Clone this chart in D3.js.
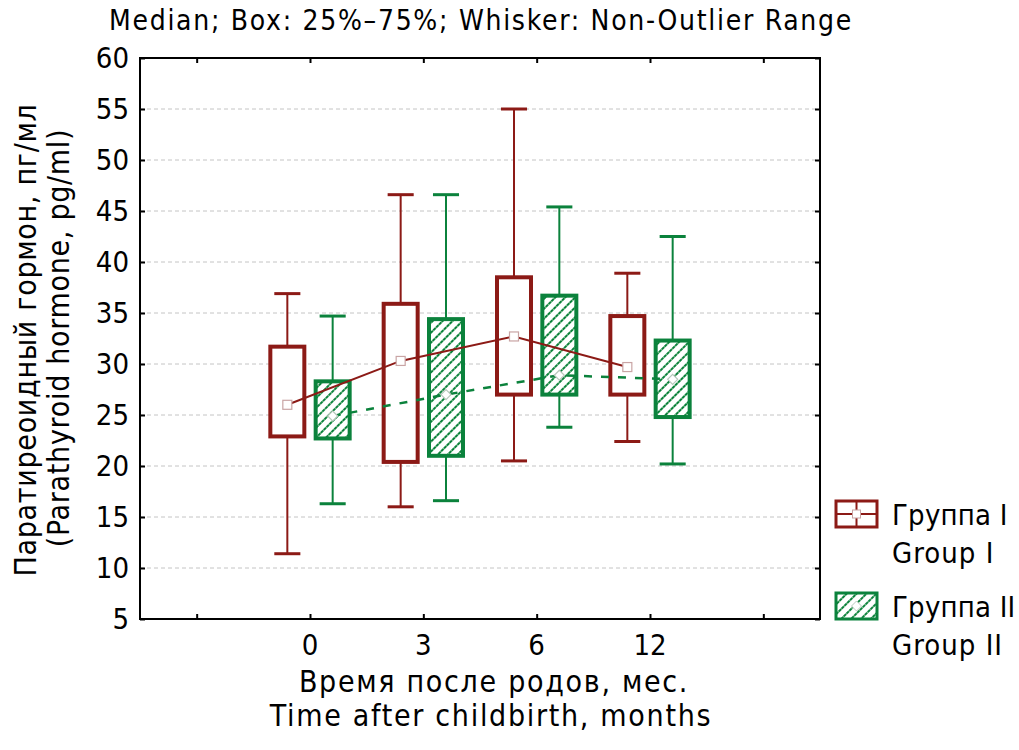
<!DOCTYPE html>
<html>
<head>
<meta charset="utf-8">
<script src="https://cdn.jsdelivr.net/npm/d3@7"></script>
<style>
  body { margin: 0; background: #fff; }
  text { font-family: "DejaVu Sans Condensed", "DejaVu Sans", sans-serif; font-stretch: condensed; fill: #000; }
</style>
</head>
<body>
<div id="chart"></div>
<script>
const categories = ["0", "3", "6", "12"];
const groupNames = [["Группа I", "Group I"], ["Группа II", "Group II"]];

const g1Min = [11.4, 16.0, 20.5, 22.4];
const g1Q1 = [22.9, 20.4, 27.0, 27.0];
const g1Med = [26.0, 30.3, 32.7, 29.7];
const g1Q3 = [31.7, 35.9, 38.5, 34.7];
const g1Max = [36.9, 46.6, 55.0, 38.9];

const g2Min = [16.3, 16.6, 23.8, 20.2];
const g2Q1 = [22.7, 21.0, 27.0, 24.8];
const g2Med = [24.9, 27.0, 28.9, 28.5];
const g2Q3 = [28.3, 34.4, 36.7, 32.3];
const g2Max = [34.7, 46.6, 45.4, 42.5];

const yTicks = [5, 10, 15, 20, 25, 30, 35, 40, 45, 50, 55, 60];

const red = "#8c1a16";
const green = "#0b823c";

const width = 1019, height = 750;
const plot = { left: 140, right: 820, top: 58, bottom: 619 };

const svg = d3.select("#chart").append("svg")
  .attr("width", width)
  .attr("height", height);

const defs = svg.append("defs");
const pat = defs.append("pattern")
  .attr("id", "hatch")
  .attr("patternUnits", "userSpaceOnUse")
  .attr("width", 7)
  .attr("height", 8)
  .attr("patternTransform", "rotate(45)");
pat.append("rect").attr("width", 7).attr("height", 8).attr("fill", "#fff");
pat.append("line")
  .attr("x1", 0).attr("y1", 0).attr("x2", 0).attr("y2", 8)
  .attr("stroke", "#7fbf8e")
  .attr("stroke-width", 4);
pat.append("line")
  .attr("x1", 0).attr("y1", 0).attr("x2", 0).attr("y2", 8)
  .attr("stroke", green)
  .attr("stroke-width", 4)
  .attr("stroke-dasharray", "3,1");

const x = d3.scaleLinear().domain([-1.5, 4.5]).range([plot.left, plot.right]);
const y = d3.scaleLinear().domain([5, 60]).range([plot.bottom, plot.top]);

const off = 0.2, boxW = x(0.15) - x(0), capW = x(0.115) - x(0);

// grid
svg.append("g")
  .selectAll("line")
  .data(yTicks.filter(t => t > 5 && t < 60))
  .join("line")
    .attr("x1", plot.left).attr("x2", plot.right)
    .attr("y1", d => y(d)).attr("y2", d => y(d))
    .attr("stroke", "#c4c4c4")
    .attr("stroke-width", 1)
    .attr("stroke-dasharray", "4,3");

// frame ticks (inward)
const frame = svg.append("g");
frame.append("g")
  .attr("transform", `translate(${plot.left},0)`)
  .call(d3.axisRight(y).tickValues(yTicks).tickSize(5).tickFormat(""))
  .call(g => g.select(".domain").remove());
frame.append("g")
  .attr("transform", `translate(${plot.right},0)`)
  .call(d3.axisLeft(y).tickValues(yTicks).tickSize(5).tickFormat(""))
  .call(g => g.select(".domain").remove());
frame.append("g")
  .attr("transform", `translate(0,${plot.top})`)
  .call(d3.axisBottom(x).tickValues([-1, 0, 1, 2, 3, 4]).tickSize(5).tickFormat(""))
  .call(g => g.select(".domain").remove());
frame.append("g")
  .attr("transform", `translate(0,${plot.bottom})`)
  .call(d3.axisTop(x).tickValues([-1, 0, 1, 2, 3, 4]).tickSize(5).tickFormat(""))
  .call(g => g.select(".domain").remove());
frame.selectAll(".tick line").attr("stroke", "#000").attr("stroke-width", 2);

// y labels
svg.append("g")
  .selectAll("text")
  .data(yTicks)
  .join("text")
    .attr("x", 129)
    .attr("y", d => y(d) + 10)
    .attr("text-anchor", "end")
    .style("font-size", "29px")
    .text(d => d);

// x labels
svg.append("g")
  .selectAll("text")
  .data(categories)
  .join("text")
    .attr("x", (d, i) => x(i))
    .attr("y", 655)
    .attr("text-anchor", "middle")
    .style("font-size", "29px")
    .text(d => d);

const groups = [
  { min: g1Min, q1: g1Q1, med: g1Med, q3: g1Q3, max: g1Max, color: red, dx: -off, fill: "#fff" },
  { min: g2Min, q1: g2Q1, med: g2Med, q3: g2Q3, max: g2Max, color: green, dx: off, fill: "url(#hatch)" }
];

groups.forEach(gr => {
  const g = svg.append("g");
  categories.forEach((c, i) => {
    const cx = x(i + gr.dx);
    g.append("line")
      .attr("x1", cx).attr("x2", cx)
      .attr("y1", y(gr.max[i])).attr("y2", y(gr.min[i]))
      .attr("stroke", gr.color).attr("stroke-width", 2);
    [gr.max[i], gr.min[i]].forEach(v => {
      g.append("line")
        .attr("x1", cx - capW).attr("x2", cx + capW)
        .attr("y1", y(v)).attr("y2", y(v))
        .attr("stroke", gr.color).attr("stroke-width", 3);
    });
    g.append("rect")
      .attr("x", cx - boxW)
      .attr("y", y(gr.q3[i]))
      .attr("width", boxW * 2)
      .attr("height", y(gr.q1[i]) - y(gr.q3[i]))
      .attr("fill", gr.fill)
      .attr("stroke", gr.color)
      .attr("stroke-width", 4);
  });
});

// median lines
const medLine = d3.line().x(d => x(d[0])).y(d => y(d[1]));
svg.append("path")
  .attr("d", medLine(g1Med.map((v, i) => [i - off, v])))
  .attr("fill", "none").attr("stroke", red).attr("stroke-width", 2);
svg.append("path")
  .attr("d", medLine(g2Med.map((v, i) => [i + off, v])))
  .attr("fill", "none").attr("stroke", green).attr("stroke-width", 2.5)
  .attr("stroke-dasharray", "8,9");

// markers
svg.append("g")
  .selectAll("rect")
  .data(g1Med)
  .join("rect")
    .attr("x", (d, i) => x(i - off) - 4.5)
    .attr("y", d => y(d) - 4.5)
    .attr("width", 9).attr("height", 9)
    .attr("fill", "#fff").attr("stroke", "#c9a5a5").attr("stroke-width", 1.2);
svg.append("g")
  .selectAll("path")
  .data(g2Med)
  .join("path")
    .attr("transform", (d, i) => `translate(${x(i + off)},${y(d)})`)
    .attr("d", "M0,-5L5,0L0,5L-5,0Z")
    .attr("fill", "#fff").attr("stroke", "#b9c9bd").attr("stroke-width", 1.2);

// frame border
svg.append("rect")
  .attr("x", plot.left).attr("y", plot.top)
  .attr("width", plot.right - plot.left).attr("height", plot.bottom - plot.top)
  .attr("fill", "none").attr("stroke", "#000").attr("stroke-width", 2);

// titles
svg.append("text")
  .attr("x", 481).attr("y", 30)
  .attr("text-anchor", "middle")
  .style("font-size", "28px")
  .style("letter-spacing", "1.7px")
  .text("Median; Box: 25%–75%; Whisker: Non-Outlier Range");

svg.append("text")
  .attr("x", 494).attr("y", 692)
  .attr("text-anchor", "middle")
  .style("font-size", "30px")
  .style("letter-spacing", "1.7px")
  .text("Время после родов, мес.");
svg.append("text")
  .attr("x", 491).attr("y", 726)
  .attr("text-anchor", "middle")
  .style("font-size", "30px")
  .style("letter-spacing", "1.7px")
  .text("Time after childbirth, months");

svg.append("text")
  .attr("transform", "translate(36,340) rotate(-90)")
  .attr("text-anchor", "middle")
  .style("font-size", "30px")
  .style("letter-spacing", "0.7px")
  .text("Паратиреоидный гормон, пг/мл");
svg.append("text")
  .attr("transform", "translate(69,338) rotate(-90)")
  .attr("text-anchor", "middle")
  .style("font-size", "30px")
  .style("letter-spacing", "0.7px")
  .text("(Parathyroid hormone, pg/ml)");

// legend
const legend = svg.append("g");
const lg = [
  { y: 501, color: red, fill: "#fff", names: groupNames[0] },
  { y: 593, color: green, fill: "url(#hatch)", names: groupNames[1] }
];
lg.forEach((d, k) => {
  const g = legend.append("g").attr("transform", `translate(836,${d.y})`);
  g.append("rect")
    .attr("width", 41).attr("height", 26)
    .attr("fill", d.fill).attr("stroke", d.color).attr("stroke-width", 3);
  if (k === 0) {
    g.append("line").attr("x1", 0).attr("x2", 41).attr("y1", 13).attr("y2", 13)
      .attr("stroke", d.color).attr("stroke-width", 2);
    g.append("line").attr("x1", 20.5).attr("x2", 20.5).attr("y1", 0).attr("y2", 26)
      .attr("stroke", d.color).attr("stroke-width", 2);
    g.append("rect").attr("x", 16.5).attr("y", 9).attr("width", 8).attr("height", 8)
      .attr("fill", "#fff").attr("stroke", "#c9a5a5");
  } else {
    g.append("path").attr("transform", "translate(20.5,13)")
      .attr("d", "M0,-5L5,0L0,5L-5,0Z")
      .attr("fill", "#fff").attr("stroke", "#b9c9bd");
  }
  g.append("text").attr("x", 56).attr("y", 24).style("font-size", "29px").style("letter-spacing", "0.2px").text(d.names[0]);
  g.append("text").attr("x", 56).attr("y", 62).style("font-size", "29px").style("letter-spacing", "1px").text(d.names[1]);
});
</script>
</body>
</html>
